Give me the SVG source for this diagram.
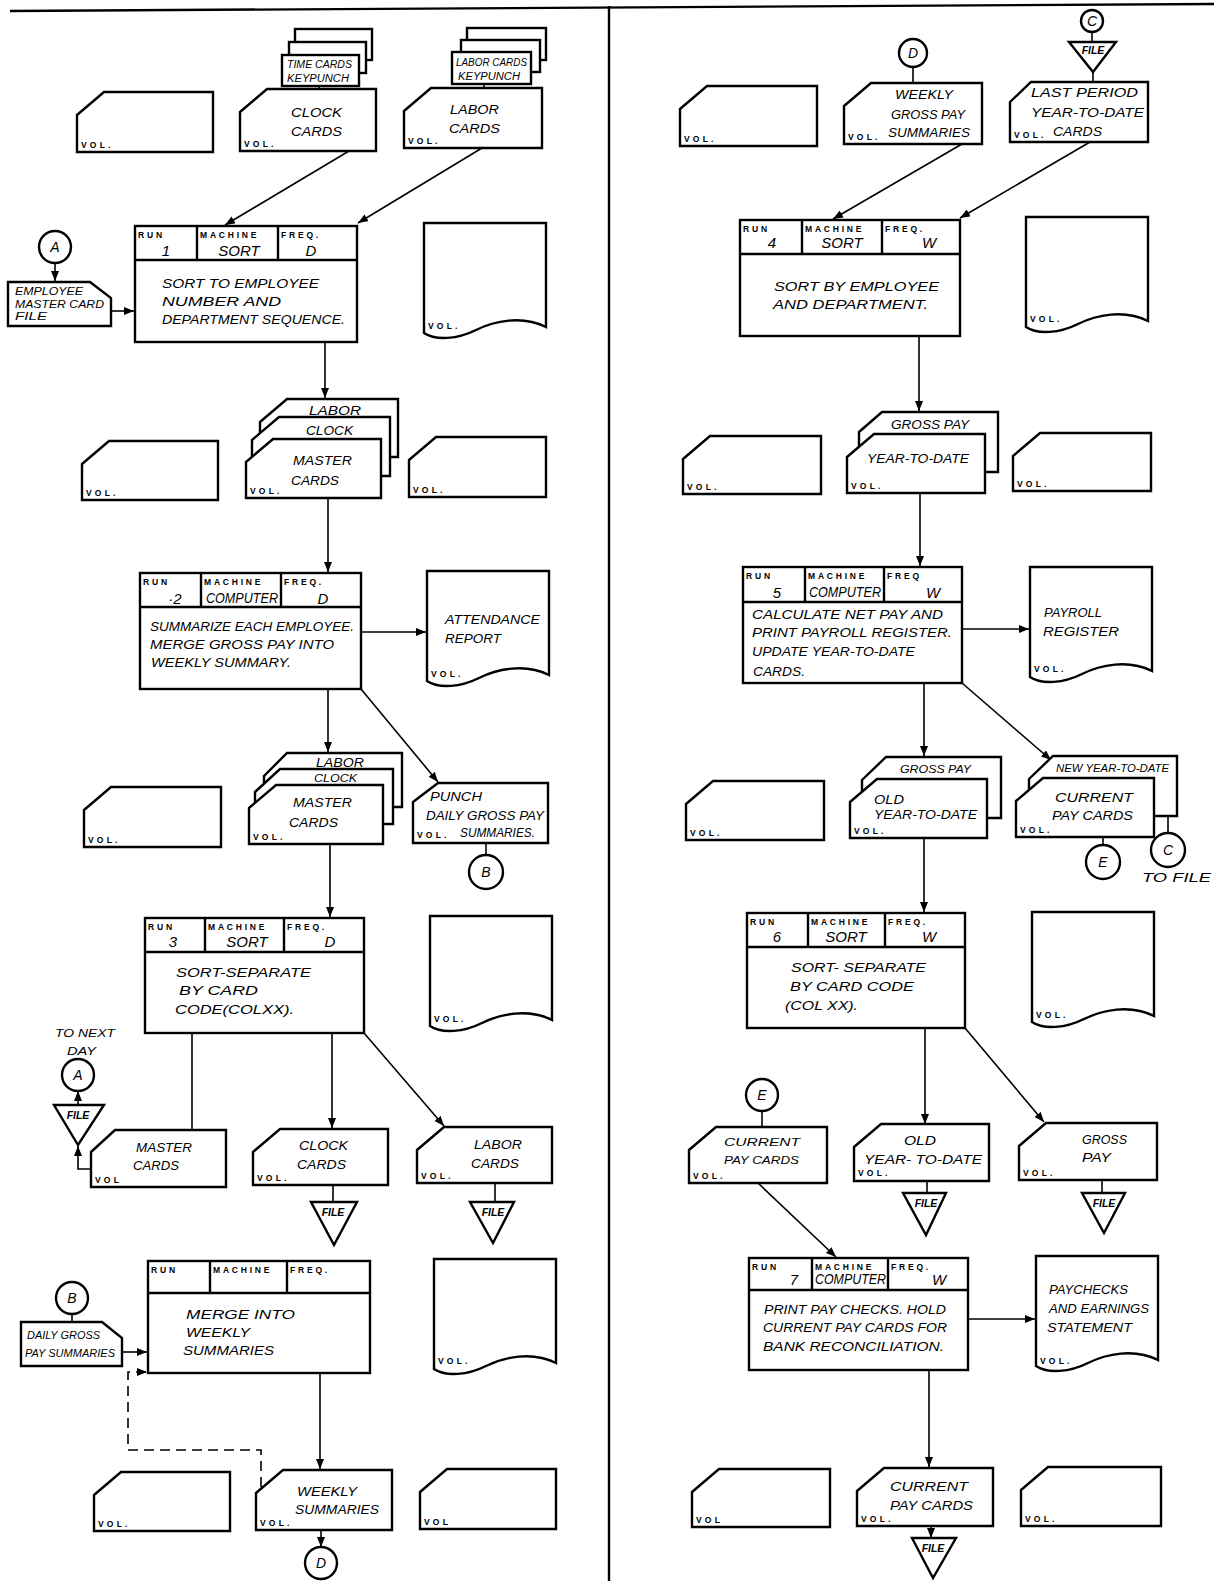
<svg xmlns="http://www.w3.org/2000/svg" width="1214" height="1581" viewBox="0 0 1214 1581">
<style>
.s{fill:#fff;stroke:#000;stroke-width:2.4;stroke-linejoin:miter}
.k{fill:none;stroke:#000;stroke-width:2.4}
.c{fill:none;stroke:#000;stroke-width:1.6}
.a{marker-end:url(#ah)}
.d{stroke-dasharray:10 6}
text{font-family:"Liberation Sans",Arial,sans-serif;fill:#000}
.h{font-style:italic;font-size:12.5px}
.m{font-style:italic;font-size:10px}
.v{font-size:8.5px;letter-spacing:3.2px;font-weight:bold}
.l{font-size:8.5px;letter-spacing:2.8px;font-weight:bold}
.n{font-style:italic;font-size:15px}
.f{font-style:italic;font-size:10.5px;font-weight:bold}
.o{font-style:italic;font-size:14px}
</style>
<defs>
<marker id="ah" viewBox="0 0 10 8" refX="10" refY="4" markerWidth="10" markerHeight="8" markerUnits="userSpaceOnUse" orient="auto"><path d="M0,0 L10,4 L0,8 Z"/></marker>
<path id="doc" d="M0,0 H122 V104 C98,92 70,98 52,107 C34,116 12,118 0,110 Z"/>
</defs>

<g id="frame">
<line class="k" x1="10" y1="11" x2="1214" y2="4" stroke-width="2.5"/>
<line class="k" x1="609" y1="6" x2="609" y2="1581" stroke-width="2.5"/>
</g>

<g id="connectors">
<line class="c" x1="319" y1="86" x2="319" y2="89"/>
<line class="c" x1="484" y1="84" x2="484" y2="88"/>
<line class="c a" x1="349" y1="151" x2="225" y2="225"/>
<line class="c a" x1="482" y1="148" x2="358" y2="223"/>
<line class="c a" x1="55" y1="263" x2="55" y2="281"/>
<line class="c a" x1="111" y1="311" x2="134" y2="311"/>
<line class="c a" x1="325" y1="342" x2="325" y2="398"/>
<line class="c a" x1="328" y1="498" x2="328" y2="572"/>
<line class="c a" x1="361" y1="632" x2="426" y2="632"/>
<line class="c a" x1="328" y1="689" x2="328" y2="752"/>
<line class="c a" x1="361" y1="689" x2="438" y2="782"/>
<line class="c" x1="486" y1="843" x2="486" y2="855"/>
<line class="c a" x1="330" y1="844" x2="330" y2="917"/>
<line class="c" x1="192" y1="1033" x2="192" y2="1130"/>
<line class="c a" x1="332" y1="1033" x2="332" y2="1128"/>
<line class="c a" x1="364" y1="1033" x2="444" y2="1126"/>
<line class="c a" x1="78" y1="1105" x2="78" y2="1091"/>
<path class="c a" d="M91,1169 H78 V1146"/>
<line class="c" x1="333" y1="1185" x2="333" y2="1202"/>
<line class="c" x1="495" y1="1183" x2="495" y2="1202"/>
<line class="c" x1="72" y1="1314" x2="72" y2="1322"/>
<line class="c a" x1="122" y1="1352" x2="147" y2="1352"/>
<path class="c a d" d="M261,1487 V1450 H128 V1372 H147"/>
<line class="c a" x1="320" y1="1373" x2="320" y2="1469"/>
<line class="c a" x1="321" y1="1530" x2="321" y2="1547"/>
<line class="c" x1="913" y1="67" x2="913" y2="83"/>
<line class="c" x1="1092" y1="32" x2="1092" y2="42"/>
<line class="c" x1="1093" y1="72" x2="1093" y2="82"/>
<line class="c a" x1="962" y1="144" x2="833" y2="219"/>
<line class="c a" x1="1090" y1="142" x2="960" y2="218"/>
<line class="c a" x1="919" y1="336" x2="919" y2="411"/>
<line class="c a" x1="920" y1="493" x2="920" y2="566"/>
<line class="c a" x1="962" y1="629" x2="1029" y2="629"/>
<line class="c a" x1="924" y1="683" x2="924" y2="756"/>
<line class="c a" x1="962" y1="683" x2="1051" y2="760"/>
<line class="c" x1="1103" y1="837" x2="1103" y2="845"/>
<line class="c" x1="1168" y1="816" x2="1168" y2="833"/>
<line class="c a" x1="924" y1="838" x2="924" y2="912"/>
<line class="c a" x1="925" y1="1028" x2="925" y2="1124"/>
<line class="c a" x1="965" y1="1028" x2="1044" y2="1122"/>
<line class="c" x1="762" y1="1111" x2="762" y2="1127"/>
<line class="c" x1="927" y1="1181" x2="927" y2="1193"/>
<line class="c" x1="1102" y1="1180" x2="1102" y2="1193"/>
<line class="c a" x1="758" y1="1183" x2="836" y2="1257"/>
<line class="c a" x1="968" y1="1319" x2="1035" y2="1319"/>
<line class="c a" x1="929" y1="1370" x2="929" y2="1467"/>
<line class="c a" x1="931" y1="1526" x2="931" y2="1538"/>
</g>

<!-- LEFT COLUMN -->
<g id="card-l1-blank"><path class="s" d="M77,115 L104,92 H213 V152 H77 Z"/><text class="v" x="81" y="148">VOL.</text></g>
<g id="keypunch-time">
<rect class="s" x="295" y="29" width="77" height="31"/><rect class="s" x="289" y="42" width="77" height="31"/><rect class="s" x="282" y="55" width="77" height="31"/>
<text class="m" x="287" y="68" textLength="65" lengthAdjust="spacingAndGlyphs">TIME CARDS</text>
<text class="m" x="287" y="82" textLength="62" lengthAdjust="spacingAndGlyphs">KEYPUNCH</text>
</g>
<g id="card-clock"><path class="s" d="M240,112 L267,89 H376 V151 H240 Z"/>
<text class="h" x="291" y="117" textLength="51" lengthAdjust="spacingAndGlyphs">CLOCK</text>
<text class="h" x="291" y="136" textLength="51" lengthAdjust="spacingAndGlyphs">CARDS</text>
<text class="v" x="244" y="147">VOL.</text></g>
<g id="keypunch-labor">
<rect class="s" x="467" y="28" width="79" height="32"/><rect class="s" x="461" y="40" width="79" height="32"/><rect class="s" x="452" y="52" width="79" height="32"/>
<text class="m" x="456" y="66" textLength="71" lengthAdjust="spacingAndGlyphs">LABOR CARDS</text>
<text class="m" x="458" y="80" textLength="62" lengthAdjust="spacingAndGlyphs">KEYPUNCH</text>
</g>
<g id="card-labor"><path class="s" d="M404,111 L431,88 H542 V148 H404 Z"/>
<text class="h" x="450" y="114" textLength="49" lengthAdjust="spacingAndGlyphs">LABOR</text>
<text class="h" x="449" y="133" textLength="51" lengthAdjust="spacingAndGlyphs">CARDS</text>
<text class="v" x="408" y="144">VOL.</text></g>

<g id="conn-a1"><circle class="s" cx="55" cy="247" r="16" stroke-width="1.6"/><text class="o" x="55" y="252" text-anchor="middle">A</text></g>
<g id="emp-master-file"><path class="s" d="M8,282 H90 L111,298 V326 H8 Z"/>
<text class="m" x="15" y="295" textLength="68" lengthAdjust="spacingAndGlyphs">EMPLOYEE</text>
<text class="m" x="15" y="308" textLength="89" lengthAdjust="spacingAndGlyphs">MASTER CARD</text>
<text class="m" x="15" y="320" textLength="32" lengthAdjust="spacingAndGlyphs">FILE</text></g>

<g id="run1"><rect class="s" x="135" y="226" width="222" height="116"/>
<path class="k" d="M135,260 H357 M197,226 V260 M278,226 V260"/>
<text class="l" x="138" y="238">RUN</text><text class="l" x="200" y="238">MACHINE</text><text class="l" x="281" y="238">FREQ.</text>
<text class="n" x="166" y="256" text-anchor="middle">1</text><text class="n" x="239" y="256" text-anchor="middle">SORT</text><text class="n" x="311" y="256" text-anchor="middle">D</text>
<text class="h" x="162" y="288" textLength="157" lengthAdjust="spacingAndGlyphs">SORT TO EMPLOYEE</text>
<text class="h" x="162" y="306" textLength="119" lengthAdjust="spacingAndGlyphs">NUMBER  AND</text>
<text class="h" x="162" y="324" textLength="183" lengthAdjust="spacingAndGlyphs">DEPARTMENT SEQUENCE.</text></g>
<g id="doc-l1"><use href="#doc" class="s" x="424" y="223"/><text class="v" x="428" y="329">VOL.</text></g>

<g id="card-l2-blank"><path class="s" d="M82,464 L109,441 H218 V500 H82 Z"/><text class="v" x="86" y="496">VOL.</text></g>
<g id="stack-l2">
<path class="s" d="M260,422 L287,399 H398 V457 H260 Z"/>
<text class="h" x="309" y="415" textLength="52" lengthAdjust="spacingAndGlyphs">LABOR</text>
<path class="s" d="M252,440 L279,417 H390 V476 H252 Z"/>
<text class="h" x="306" y="435" textLength="47" lengthAdjust="spacingAndGlyphs">CLOCK</text>
<path class="s" d="M246,462 L273,439 H381 V498 H246 Z"/>
<text class="h" x="293" y="465" textLength="59" lengthAdjust="spacingAndGlyphs">MASTER</text>
<text class="h" x="291" y="485" textLength="48" lengthAdjust="spacingAndGlyphs">CARDS</text>
<text class="v" x="250" y="494">VOL.</text></g>
<g id="card-l2-blank2"><path class="s" d="M409,460 L436,437 H546 V497 H409 Z"/><text class="v" x="413" y="493">VOL.</text></g>

<g id="run2"><rect class="s" x="140" y="573" width="221" height="116"/>
<path class="k" d="M140,607 H361 M201,573 V607 M281,573 V607"/>
<text class="l" x="143" y="585">RUN</text><text class="l" x="204" y="585">MACHINE</text><text class="l" x="284" y="585">FREQ.</text>
<text class="n" x="175" y="604" text-anchor="middle">·2</text>
<text class="n" x="206" y="603" font-size="12" textLength="72" lengthAdjust="spacingAndGlyphs">COMPUTER</text>
<text class="n" x="323" y="604" text-anchor="middle">D</text>
<text class="h" x="150" y="631" textLength="204" lengthAdjust="spacingAndGlyphs">SUMMARIZE EACH EMPLOYEE.</text>
<text class="h" x="150" y="649" textLength="184" lengthAdjust="spacingAndGlyphs">MERGE GROSS PAY INTO</text>
<text class="h" x="151" y="667" textLength="140" lengthAdjust="spacingAndGlyphs">WEEKLY SUMMARY.</text></g>
<g id="doc-attendance"><use href="#doc" class="s" x="427" y="571"/>
<text class="h" x="445" y="624" textLength="95" lengthAdjust="spacingAndGlyphs">ATTENDANCE</text>
<text class="h" x="445" y="643" textLength="56" lengthAdjust="spacingAndGlyphs">REPORT</text>
<text class="v" x="431" y="677">VOL.</text></g>

<g id="card-l3-blank"><path class="s" d="M84,810 L111,787 H221 V847 H84 Z"/><text class="v" x="88" y="843">VOL.</text></g>
<g id="stack-l3">
<path class="s" d="M264,776 L287,753 H402 V807 H264 Z"/>
<text class="h" x="316" y="767" textLength="48" lengthAdjust="spacingAndGlyphs">LABOR</text>
<path class="s" d="M255,792 L280,769 H393 V824 H255 Z"/>
<text class="m" x="314" y="782" textLength="43" lengthAdjust="spacingAndGlyphs">CLOCK</text>
<path class="s" d="M249,808 L276,785 H383 V844 H249 Z"/>
<text class="h" x="293" y="807" textLength="59" lengthAdjust="spacingAndGlyphs">MASTER</text>
<text class="h" x="289" y="827" textLength="49" lengthAdjust="spacingAndGlyphs">CARDS</text>
<text class="v" x="253" y="840">VOL.</text></g>
<g id="card-punch"><path class="s" d="M413,802 L438,783 H548 V843 H413 Z"/>
<text class="h" x="430" y="801" textLength="52" lengthAdjust="spacingAndGlyphs">PUNCH</text>
<text class="h" x="426" y="820" textLength="118" lengthAdjust="spacingAndGlyphs">DAILY GROSS PAY</text>
<text class="v" x="417" y="838">VOL.</text>
<text class="h" x="460" y="837" textLength="75" lengthAdjust="spacingAndGlyphs">SUMMARIES.</text></g>
<g id="conn-b1"><circle class="s" cx="486" cy="872" r="17" stroke-width="1.6"/><text class="o" x="486" y="877" text-anchor="middle">B</text></g>

<g id="run3"><rect class="s" x="145" y="918" width="219" height="115"/>
<path class="k" d="M145,952 H364 M205,918 V952 M284,918 V952"/>
<text class="l" x="148" y="930">RUN</text><text class="l" x="208" y="930">MACHINE</text><text class="l" x="287" y="930">FREQ.</text>
<text class="n" x="173" y="947" text-anchor="middle">3</text><text class="n" x="247" y="947" text-anchor="middle">SORT</text><text class="n" x="330" y="947" text-anchor="middle">D</text>
<text class="h" x="176" y="977" textLength="135" lengthAdjust="spacingAndGlyphs">SORT-SEPARATE</text>
<text class="h" x="179" y="995" textLength="79" lengthAdjust="spacingAndGlyphs">BY  CARD</text>
<text class="h" x="175" y="1014" textLength="119" lengthAdjust="spacingAndGlyphs">CODE(COLXX).</text></g>
<g id="doc-l3"><use href="#doc" class="s" x="430" y="916"/><text class="v" x="434" y="1022">VOL.</text></g>

<g id="to-next-day"><text class="m" x="55" y="1037" textLength="60" lengthAdjust="spacingAndGlyphs">TO NEXT</text>
<text class="m" x="67" y="1055" textLength="29" lengthAdjust="spacingAndGlyphs">DAY</text></g>
<g id="conn-a2"><circle class="s" cx="78" cy="1075" r="16" stroke-width="1.6"/><text class="o" x="78" y="1080" text-anchor="middle">A</text></g>
<g id="file-l1"><path class="s" d="M54,1105 H104 L78,1145 Z" stroke-width="1.6"/><text class="f" x="78" y="1119" text-anchor="middle">FILE</text></g>
<g id="card-master"><path class="s" d="M91,1152 L115,1130 H226 V1187 H91 Z"/>
<text class="h" x="136" y="1152" textLength="56" lengthAdjust="spacingAndGlyphs">MASTER</text>
<text class="h" x="133" y="1170" textLength="46" lengthAdjust="spacingAndGlyphs">CARDS</text>
<text class="v" x="95" y="1183">VOL</text></g>
<g id="card-clock2"><path class="s" d="M253,1152 L280,1129 H388 V1185 H253 Z"/>
<text class="h" x="299" y="1150" textLength="49" lengthAdjust="spacingAndGlyphs">CLOCK</text>
<text class="h" x="297" y="1169" textLength="49" lengthAdjust="spacingAndGlyphs">CARDS</text>
<text class="v" x="257" y="1181">VOL.</text></g>
<g id="card-labor2"><path class="s" d="M417,1150 L444,1127 H552 V1183 H417 Z"/>
<text class="h" x="474" y="1149" textLength="48" lengthAdjust="spacingAndGlyphs">LABOR</text>
<text class="h" x="471" y="1168" textLength="48" lengthAdjust="spacingAndGlyphs">CARDS</text>
<text class="v" x="421" y="1179">VOL.</text></g>
<g id="file-l2"><path class="s" d="M311,1202 H357 L334,1245 Z" stroke-width="1.6"/><text class="f" x="333" y="1216" text-anchor="middle">FILE</text></g>
<g id="file-l3"><path class="s" d="M470,1202 H514 L493,1243 Z" stroke-width="1.6"/><text class="f" x="493" y="1216" text-anchor="middle">FILE</text></g>

<g id="run-merge"><rect class="s" x="148" y="1261" width="222" height="112"/>
<path class="k" d="M148,1293 H370 M210,1261 V1293 M287,1261 V1293"/>
<text class="l" x="151" y="1273">RUN</text><text class="l" x="213" y="1273">MACHINE</text><text class="l" x="290" y="1273">FREQ.</text>
<text class="h" x="186" y="1319" textLength="109" lengthAdjust="spacingAndGlyphs">MERGE  INTO</text>
<text class="h" x="186" y="1337" textLength="64" lengthAdjust="spacingAndGlyphs">WEEKLY</text>
<text class="h" x="183" y="1355" textLength="91" lengthAdjust="spacingAndGlyphs">SUMMARIES</text></g>
<g id="conn-b2"><circle class="s" cx="72" cy="1298" r="16" stroke-width="1.6"/><text class="o" x="72" y="1303" text-anchor="middle">B</text></g>
<g id="daily-gross-card"><path class="s" d="M21,1322 H102 L122,1338 V1366 H21 Z"/>
<text class="m" x="27" y="1339" textLength="73" lengthAdjust="spacingAndGlyphs">DAILY GROSS</text>
<text class="m" x="25" y="1357" textLength="90" lengthAdjust="spacingAndGlyphs">PAY SUMMARIES</text></g>
<g id="doc-l4"><use href="#doc" class="s" x="434" y="1259"/><text class="v" x="438" y="1364">VOL.</text></g>

<g id="card-l5-blank"><path class="s" d="M94,1495 L121,1472 H230 V1531 H94 Z"/><text class="v" x="98" y="1527">VOL.</text></g>
<g id="card-weekly"><path class="s" d="M256,1493 L283,1470 H392 V1530 H256 Z"/>
<text class="h" x="297" y="1496" textLength="60" lengthAdjust="spacingAndGlyphs">WEEKLY</text>
<text class="h" x="295" y="1514" textLength="84" lengthAdjust="spacingAndGlyphs">SUMMARIES</text>
<text class="v" x="260" y="1526">VOL.</text></g>
<g id="card-l5-blank2"><path class="s" d="M420,1492 L447,1469 H556 V1529 H420 Z"/><text class="v" x="424" y="1525">VOL</text></g>
<g id="conn-d1"><circle class="s" cx="321" cy="1563" r="16" stroke-width="1.6"/><text class="o" x="321" y="1568" text-anchor="middle">D</text></g>

<!-- RIGHT COLUMN -->
<g id="card-r1-blank"><path class="s" d="M680,109 L707,86 H817 V146 H680 Z"/><text class="v" x="684" y="142">VOL.</text></g>
<g id="conn-d2"><circle class="s" cx="913" cy="53" r="14" stroke-width="1.6"/><text class="o" x="913" y="58" text-anchor="middle">D</text></g>
<g id="card-weekly-gross"><path class="s" d="M844,106 L871,83 H982 V144 H844 Z"/>
<text class="h" x="895" y="99" textLength="58" lengthAdjust="spacingAndGlyphs">WEEKLY</text>
<text class="h" x="891" y="119" textLength="74" lengthAdjust="spacingAndGlyphs">GROSS  PAY</text>
<text class="v" x="848" y="140">VOL.</text>
<text class="h" x="888" y="137" textLength="82" lengthAdjust="spacingAndGlyphs">SUMMARIES</text></g>
<g id="conn-c1"><circle class="s" cx="1092" cy="21" r="11" stroke-width="1.6"/><text class="o" x="1092" y="26" text-anchor="middle" font-size="12">C</text></g>
<g id="file-r0"><path class="s" d="M1069,42 H1116 L1093,72 Z" stroke-width="1.6"/><text class="f" x="1093" y="54" text-anchor="middle">FILE</text></g>
<g id="card-last-period"><path class="s" d="M1010,102 L1031,82 H1148 V142 H1010 Z"/>
<text class="h" x="1031" y="97" textLength="107" lengthAdjust="spacingAndGlyphs">LAST  PERIOD</text>
<text class="h" x="1031" y="117" textLength="113" lengthAdjust="spacingAndGlyphs">YEAR-TO-DATE</text>
<text class="v" x="1014" y="138">VOL.</text>
<text class="h" x="1053" y="136" textLength="49" lengthAdjust="spacingAndGlyphs">CARDS</text></g>

<g id="run4"><rect class="s" x="740" y="220" width="220" height="116"/>
<path class="k" d="M740,254 H960 M802,220 V254 M882,220 V254"/>
<text class="l" x="743" y="232">RUN</text><text class="l" x="805" y="232">MACHINE</text><text class="l" x="885" y="232">FREQ.</text>
<text class="n" x="772" y="248" text-anchor="middle">4</text><text class="n" x="842" y="248" text-anchor="middle">SORT</text><text class="n" x="929" y="248" text-anchor="middle">W</text>
<text class="h" x="774" y="291" textLength="165" lengthAdjust="spacingAndGlyphs">SORT BY EMPLOYEE</text>
<text class="h" x="773" y="309" textLength="155" lengthAdjust="spacingAndGlyphs">AND  DEPARTMENT.</text></g>
<g id="doc-r1"><use href="#doc" class="s" x="1026" y="217"/><text class="v" x="1030" y="322">VOL.</text></g>

<g id="card-r2-blank"><path class="s" d="M683,459 L710,436 H821 V494 H683 Z"/><text class="v" x="687" y="490">VOL.</text></g>
<g id="stack-r2">
<path class="s" d="M859,432 L882,412 H998 V472 H859 Z"/>
<text class="h" x="891" y="429" textLength="78" lengthAdjust="spacingAndGlyphs">GROSS  PAY</text>
<path class="s" d="M847,457 L874,434 H985 V493 H847 Z"/>
<text class="h" x="867" y="463" textLength="102" lengthAdjust="spacingAndGlyphs">YEAR-TO-DATE</text>
<text class="v" x="851" y="489">VOL.</text></g>
<g id="card-r2-blank2"><path class="s" d="M1013,456 L1040,433 H1151 V491 H1013 Z"/><text class="v" x="1017" y="487">VOL.</text></g>

<g id="run5"><rect class="s" x="743" y="567" width="219" height="116"/>
<path class="k" d="M743,602 H962 M805,567 V602 M884,567 V602"/>
<text class="l" x="746" y="579">RUN</text><text class="l" x="808" y="579">MACHINE</text><text class="l" x="887" y="579">FREQ</text>
<text class="n" x="777" y="598" text-anchor="middle">5</text>
<text class="n" x="809" y="597" font-size="12" textLength="72" lengthAdjust="spacingAndGlyphs">COMPUTER</text>
<text class="n" x="933" y="598" text-anchor="middle">W</text>
<text class="h" x="752" y="619" textLength="191" lengthAdjust="spacingAndGlyphs">CALCULATE NET PAY AND</text>
<text class="h" x="752" y="637" textLength="200" lengthAdjust="spacingAndGlyphs">PRINT PAYROLL REGISTER.</text>
<text class="h" x="752" y="656" textLength="163" lengthAdjust="spacingAndGlyphs">UPDATE YEAR-TO-DATE</text>
<text class="h" x="753" y="676" textLength="52" lengthAdjust="spacingAndGlyphs">CARDS.</text></g>
<g id="doc-payroll"><use href="#doc" class="s" x="1030" y="567"/>
<text class="h" x="1044" y="617" textLength="58" lengthAdjust="spacingAndGlyphs">PAYROLL</text>
<text class="h" x="1043" y="636" textLength="76" lengthAdjust="spacingAndGlyphs">REGISTER</text>
<text class="v" x="1034" y="672">VOL.</text></g>

<g id="card-r3-blank"><path class="s" d="M686,804 L713,781 H824 V840 H686 Z"/><text class="v" x="690" y="836">VOL.</text></g>
<g id="stack-r3">
<path class="s" d="M862,780 L886,757 H1001 V818 H862 Z"/>
<text class="m" x="900" y="773" font-size="10.5" textLength="71" lengthAdjust="spacingAndGlyphs">GROSS  PAY</text>
<path class="s" d="M850,802 L877,779 H987 V838 H850 Z"/>
<text class="h" x="874" y="804" textLength="30" lengthAdjust="spacingAndGlyphs">OLD</text>
<text class="h" x="874" y="819" textLength="103" lengthAdjust="spacingAndGlyphs">YEAR-TO-DATE</text>
<text class="v" x="854" y="834">VOL.</text></g>
<g id="stack-r3b">
<path class="s" d="M1029,779 L1053,756 H1177 V816 H1029 Z"/>
<text class="m" x="1056" y="772" font-size="10.5" textLength="113" lengthAdjust="spacingAndGlyphs">NEW YEAR-TO-DATE</text>
<path class="s" d="M1016,801 L1043,778 H1154 V837 H1016 Z"/>
<text class="h" x="1055" y="802" textLength="78" lengthAdjust="spacingAndGlyphs">CURRENT</text>
<text class="h" x="1052" y="820" textLength="81" lengthAdjust="spacingAndGlyphs">PAY  CARDS</text>
<text class="v" x="1020" y="833">VOL.</text></g>
<g id="conn-e1"><circle class="s" cx="1103" cy="862" r="17" stroke-width="1.6"/><text class="o" x="1103" y="867" text-anchor="middle">E</text></g>
<g id="conn-c2"><circle class="s" cx="1168" cy="850" r="17" stroke-width="1.6"/><text class="o" x="1168" y="855" text-anchor="middle">C</text>
<text class="h" x="1142" y="882" textLength="69" lengthAdjust="spacingAndGlyphs">TO  FILE</text></g>

<g id="run6"><rect class="s" x="747" y="913" width="218" height="115"/>
<path class="k" d="M747,947 H965 M808,913 V947 M885,913 V947"/>
<text class="l" x="750" y="925">RUN</text><text class="l" x="811" y="925">MACHINE</text><text class="l" x="888" y="925">FREQ.</text>
<text class="n" x="777" y="942" text-anchor="middle">6</text><text class="n" x="846" y="942" text-anchor="middle">SORT</text><text class="n" x="929" y="942" text-anchor="middle">W</text>
<text class="h" x="791" y="972" textLength="135" lengthAdjust="spacingAndGlyphs">SORT- SEPARATE</text>
<text class="h" x="790" y="991" textLength="124" lengthAdjust="spacingAndGlyphs">BY CARD  CODE</text>
<text class="h" x="785" y="1010" textLength="73" lengthAdjust="spacingAndGlyphs">(COL XX).</text></g>
<g id="doc-r3"><use href="#doc" class="s" x="1032" y="912"/><text class="v" x="1036" y="1018">VOL.</text></g>

<g id="conn-e2"><circle class="s" cx="762" cy="1095" r="16" stroke-width="1.6"/><text class="o" x="762" y="1100" text-anchor="middle">E</text></g>
<g id="card-current-pay"><path class="s" d="M689,1150 L716,1127 H827 V1183 H689 Z"/>
<text class="m" x="724" y="1146" font-size="11" textLength="76" lengthAdjust="spacingAndGlyphs">CURRENT</text>
<text class="m" x="724" y="1164" font-size="11" textLength="75" lengthAdjust="spacingAndGlyphs">PAY CARDS</text>
<text class="v" x="693" y="1179">VOL.</text></g>
<g id="card-old-ytd"><path class="s" d="M854,1147 L881,1124 H989 V1181 H854 Z"/>
<text class="h" x="904" y="1145" textLength="32" lengthAdjust="spacingAndGlyphs">OLD</text>
<text class="h" x="864" y="1164" textLength="118" lengthAdjust="spacingAndGlyphs">YEAR- TO-DATE</text>
<text class="v" x="858" y="1176">VOL.</text></g>
<g id="card-gross-pay"><path class="s" d="M1019,1146 L1046,1123 H1157 V1180 H1019 Z"/>
<text class="h" x="1082" y="1144" textLength="45" lengthAdjust="spacingAndGlyphs">GROSS</text>
<text class="h" x="1082" y="1162" textLength="29" lengthAdjust="spacingAndGlyphs">PAY</text>
<text class="v" x="1023" y="1176">VOL.</text></g>
<g id="file-r1"><path class="s" d="M903,1193 H946 L926,1235 Z" stroke-width="1.6"/><text class="f" x="926" y="1207" text-anchor="middle">FILE</text></g>
<g id="file-r2"><path class="s" d="M1082,1193 H1125 L1104,1233 Z" stroke-width="1.6"/><text class="f" x="1104" y="1207" text-anchor="middle">FILE</text></g>

<g id="run7"><rect class="s" x="749" y="1258" width="219" height="112"/>
<path class="k" d="M749,1290 H968 M812,1258 V1290 M888,1258 V1290"/>
<text class="l" x="752" y="1270">RUN</text><text class="l" x="815" y="1270">MACHINE</text><text class="l" x="891" y="1270">FREQ.</text>
<text class="n" x="794" y="1285" text-anchor="middle">7</text>
<text class="n" x="815" y="1284" font-size="12" textLength="71" lengthAdjust="spacingAndGlyphs">COMPUTER</text>
<text class="n" x="939" y="1285" text-anchor="middle">W</text>
<text class="h" x="764" y="1314" textLength="182" lengthAdjust="spacingAndGlyphs">PRINT PAY CHECKS. HOLD</text>
<text class="h" x="763" y="1332" textLength="184" lengthAdjust="spacingAndGlyphs">CURRENT PAY CARDS FOR</text>
<text class="h" x="763" y="1351" textLength="181" lengthAdjust="spacingAndGlyphs">BANK  RECONCILIATION.</text></g>
<g id="doc-paychecks"><use href="#doc" class="s" x="1036" y="1256"/>
<text class="h" x="1049" y="1294" textLength="79" lengthAdjust="spacingAndGlyphs">PAYCHECKS</text>
<text class="h" x="1049" y="1313" textLength="100" lengthAdjust="spacingAndGlyphs">AND EARNINGS</text>
<text class="h" x="1047" y="1332" textLength="85" lengthAdjust="spacingAndGlyphs">STATEMENT</text>
<text class="v" x="1040" y="1364">VOL.</text></g>

<g id="card-r5-blank"><path class="s" d="M692,1492 L719,1469 H830 V1527 H692 Z"/><text class="v" x="696" y="1523">VOL</text></g>
<g id="card-current-pay2"><path class="s" d="M857,1491 L884,1468 H993 V1526 H857 Z"/>
<text class="h" x="890" y="1491" textLength="78" lengthAdjust="spacingAndGlyphs">CURRENT</text>
<text class="h" x="890" y="1510" textLength="83" lengthAdjust="spacingAndGlyphs">PAY  CARDS</text>
<text class="v" x="861" y="1522">VOL.</text></g>
<g id="card-r5-blank2"><path class="s" d="M1021,1490 L1048,1467 H1161 V1526 H1021 Z"/><text class="v" x="1025" y="1522">VOL.</text></g>
<g id="file-r3"><path class="s" d="M912,1538 H956 L933,1578 Z" stroke-width="1.6"/><text class="f" x="933" y="1552" text-anchor="middle">FILE</text></g>
</svg>
